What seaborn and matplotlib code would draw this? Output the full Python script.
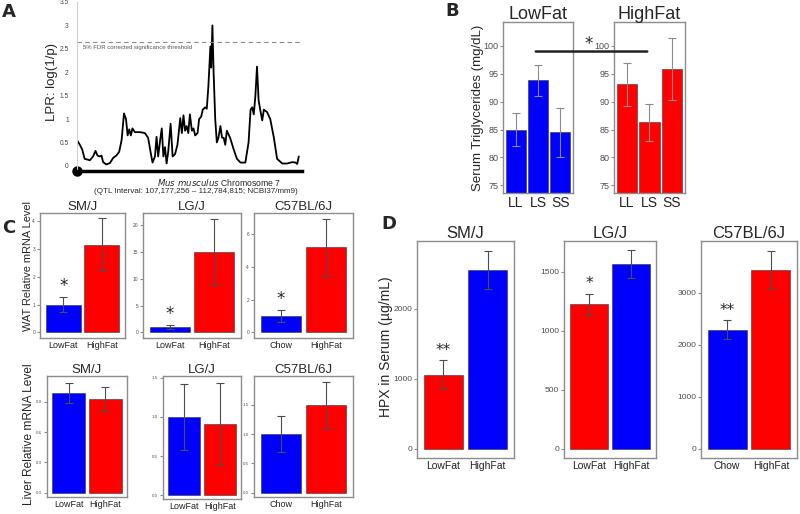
import matplotlib
matplotlib.use('Agg')
import matplotlib.pyplot as plt
from matplotlib.patches import ConnectionPatch
import seaborn as sns
import numpy as np
import pandas as pd

sns.set_style('white')
plt.rcParams['font.family'] = ['Liberation Sans', 'DejaVu Sans']

BLUE = '#0000ff'
RED = '#ff0000'
FRAME = '#8c8c8c'
ERR = '#4d4d4d'

# ---- panel A: LPR along chromosome 7 (Mb)
chr_pos = [107.18, 107.25, 107.31, 107.37, 107.50, 107.58, 107.64, 107.69, 107.75, 107.79,
           107.83, 107.91, 108.00, 108.08, 108.16, 108.23, 108.29, 108.35, 108.40, 108.44,
           108.48, 108.52, 108.56, 108.62, 108.75, 108.87, 108.95, 109.01, 109.06, 109.12,
           109.16, 109.20, 109.25, 109.29, 109.33, 109.37, 109.41, 109.45, 109.51, 109.56,
           109.62, 109.68, 109.75, 109.79, 109.83, 109.87, 109.91, 109.95, 109.99, 110.04,
           110.08, 110.12, 110.18, 110.22, 110.27, 110.31, 110.37, 110.41, 110.45, 110.50,
           110.52, 110.55, 110.58, 110.62, 110.66, 110.70, 110.75, 110.79, 110.83, 110.87,
           110.91, 110.99, 111.08, 111.16, 111.25, 111.37, 111.45, 111.50, 111.54, 111.58,
           111.62, 111.66, 111.70, 111.74, 111.79, 111.83, 111.91, 111.99, 112.08, 112.16,
           112.29, 112.41, 112.54, 112.62, 112.66, 112.70]
lpr = [0.55, 0.45, 0.35, 0.15, 0.12, 0.2, 0.32, 0.22, 0.2, 0.22,
       0.08, 0.03, 0.06, 0.17, 0.22, 0.3, 0.55, 1.12, 1.0, 0.65,
       0.78, 0.65, 0.8, 0.72, 0.72, 0.7, 0.6, 0.3, 0.07, 0.2,
       0.62, 0.2, 0.55, 0.8, 0.2, 0.4, 0.05, 0.3, 0.9, 0.2,
       0.25, 0.45, 1.02, 0.7, 1.08, 0.75, 0.85, 0.7, 1.1, 0.75,
       0.8, 0.65, 0.7, 1.0, 1.05, 1.2, 1.25, 1.22, 1.7, 2.55,
       2.1, 3.0, 2.0, 1.0, 0.5, 0.6, 0.85, 0.6, 0.6, 0.45,
       0.75, 0.6, 0.35, 0.15, 0.07, 0.07, 0.5, 1.2, 1.25, 1.1,
       1.5, 2.12, 1.4, 1.2, 0.97, 1.2, 1.15, 1.0, 0.6, 0.15,
       0.05, 0.05, 0.08, 0.07, 0.04, 0.2]
fdr_threshold = 2.65

# ---- panel B: serum triglycerides
tg_genotypes = ['LL', 'LS', 'SS']
tg_lowfat = [85.0, 93.8, 84.5]
tg_lowfat_se = [2.9, 2.75, 4.45]
tg_highfat = [93.1, 86.3, 95.8]
tg_highfat_se = [3.8, 3.3, 5.55]

# ---- panel C / D
strains = ['SM/J', 'LG/J', 'C57BL/6J']
diets = [['LowFat', 'HighFat'], ['LowFat', 'HighFat'], ['Chow', 'HighFat']]
wat_mean = [[1.0, 3.15], [1.0, 15.05], [1.0, 5.2]]
wat_se = [[0.27, 0.94], [0.3, 6.2], [0.35, 1.75]]
wat_sig = ['*', '*', '*']
liver_mean = [[0.99, 0.93], [1.0, 0.915], [1.0, 1.49]]
liver_se = [[0.098, 0.12], [0.42, 0.525], [0.30, 0.39]]
hpx_mean = [[1055, 2553], [1222, 1565], [2288, 3442]]
hpx_se = [[208, 270], [92, 115], [186, 365]]
hpx_sig = ['**', '*', '**']
hpx_colors = [[RED, BLUE], [RED, BLUE], [BLUE, RED]]

W, H = 800, 514
fig = plt.figure(figsize=(8, 5.14), dpi=100)


def box(l, t, r, b):
    return [l / W, 1 - b / H, (r - l) / W, (b - t) / H]


def bar_panel(ax, cats, means, ses, colors, ylim, yticks, ticklab, ytsize, xtsize,
              title=None, tsize=10, ecol=ERR, sig=None, sig_size=12, sig_off=0.05):
    df = pd.DataFrame({'cat': cats, 'val': means})
    sns.barplot(data=df, x='cat', y='val', hue='cat', palette=dict(zip(cats, colors)),
                width=0.9, saturation=1, errorbar=None, legend=False, ax=ax,
                edgecolor='#333333', linewidth=0.4)
    ax.errorbar(np.arange(len(cats)), means, yerr=ses, fmt='none', ecolor=ecol,
                elinewidth=0.8, capsize=3, capthick=0.8)
    n = len(cats)
    ax.set_xlim(-0.58 if n == 3 else -0.6, n - 1 + (0.58 if n == 3 else 0.6))
    ax.set_ylim(*ylim)
    ax.set_yticks(yticks)
    ax.set_yticklabels(ticklab)
    ax.set_xlabel('')
    ax.set_ylabel('')
    ax.tick_params(axis='y', labelsize=ytsize, labelcolor='#4d4d4d', length=2,
                   color=FRAME, left=True, pad=1.5)
    ax.tick_params(axis='x', labelsize=xtsize, labelcolor='#222222', length=0, pad=2)
    for s in ax.spines.values():
        s.set_color(FRAME)
        s.set_linewidth(1.0)
    if title:
        ax.set_title(title, fontsize=tsize, pad=2)
    if sig:
        top = means[0] + ses[0] + sig_off * (ylim[1] - ylim[0])
        ax.text(0, top, sig, ha='center', va='center', fontsize=sig_size,
                fontfamily='DejaVu Sans')


# ---------------- A
axA = fig.add_axes(box(77, 2, 302, 171))
sns.lineplot(x=chr_pos, y=lpr, color='black', linewidth=1.3, ax=axA)
axA.set_xlim(107.18, 112.78)
axA.set_ylim(-0.11, 3.5)
axA.axhline(fdr_threshold, ls=(0, (4, 3)), color='#8a8a8a', lw=0.8)
axA.text(107.33, 2.52, '5% FDR corrected significance threshold', fontsize=4.3,
         color='#555555', va='center')
axA.set_yticks(np.arange(0, 3.51, 0.5))
axA.set_yticklabels(['0', '0.5', '1', '1.5', '2', '2.5', '3', '3.5'])
axA.tick_params(axis='y', labelsize=4.8, labelcolor='#444444', length=0, pad=6)
axA.set_xticks([])
axA.set_xlabel('')
axA.set_ylabel('')
for s in ['top', 'right']:
    axA.spines[s].set_visible(False)
axA.spines['left'].set_color('#d0d0d0')
axA.spines['left'].set_linewidth(0.8)
axA.spines['bottom'].set_color('black')
axA.spines['bottom'].set_linewidth(2.5)
axA.plot([107.18], [-0.11], 'o', color='black', ms=6.5, clip_on=False)
fig.text(52 / W, 1 - 82 / H, 'LPR: log(1/p)', rotation=90, fontsize=9.5,
         ha='center', va='center')
fig.text(219 / W, 1 - 182 / H, r'$\it{Mus\ musculus}$ Chromosome 7',
         ha='center', va='center', fontsize=6.2)
fig.text(196 / W, 1 - 191.5 / H,
         '(QTL Interval: 107,177,256 \u2013 112,784,815; NCBI37/mm9)',
         ha='center', va='center', fontsize=5.8)

# ---------------- B
tg_ticks = [75, 80, 85, 90, 95, 100]
axB1 = fig.add_axes(box(503, 22, 573, 193))
bar_panel(axB1, tg_genotypes, tg_lowfat, tg_lowfat_se, [BLUE] * 3, (73.6, 104.3),
          tg_ticks, [str(t) for t in tg_ticks], 6.5, 10, 'LowFat', 13, ecol='#8a8a8a')
axB2 = fig.add_axes(box(614, 22, 685, 193))
bar_panel(axB2, tg_genotypes, tg_highfat, tg_highfat_se, [RED] * 3, (73.6, 104.3),
          tg_ticks, [str(t) for t in tg_ticks], 6.5, 10, 'HighFat', 13, ecol='#8a8a8a')
con = ConnectionPatch(xyA=(0.9, 99.0), coordsA=axB1.transData,
                      xyB=(0.9, 99.0), coordsB=axB2.transData,
                      color='#222222', linewidth=1.8)
fig.add_artist(con)
fig.text(589 / W, 1 - 44 / H, '*', fontsize=12, ha='center', va='center',
         fontfamily='DejaVu Sans')
fig.text(478 / W, 1 - 108 / H, 'Serum Triglycerides (mg/dL)', rotation=90,
         fontsize=9.5, ha='center', va='center')

# ---------------- C top (WAT)
c_top_boxes = [(40, 213, 125, 338), (143, 213, 241, 338), (254, 213, 353, 338)]
wat_ylims = [(-0.2, 4.28), (-1.06, 22.3), (-0.35, 7.3)]
wat_ticks = [[0, 1, 2, 3, 4], [0, 5, 10, 15, 20], [0, 2, 4, 6]]
for i in range(3):
    ax = fig.add_axes(box(*c_top_boxes[i]))
    bar_panel(ax, diets[i], wat_mean[i], wat_se[i], [BLUE, RED], wat_ylims[i],
              wat_ticks[i], [str(t) for t in wat_ticks[i]], 3.5, 6.5, strains[i], 9.5,
              sig=wat_sig[i], sig_size=12, sig_off=0.09)
fig.text(28 / W, 1 - 266 / H, 'WAT Relative mRNA Level', rotation=90,
         fontsize=7.9, ha='center', va='center')

# ---------------- C bottom (liver)
c_bot_boxes = [(47, 376, 127, 497), (163, 376, 241, 499), (254, 376, 353, 497)]
liver_ylims = [(-0.043, 1.157), (-0.05, 1.525), (-0.074, 1.99)]
liver_ticks = [[0.0, 0.3, 0.6, 0.9], [0.0, 0.5, 1.0, 1.5], [0.0, 0.5, 1.0, 1.5]]
for i in range(3):
    ax = fig.add_axes(box(*c_bot_boxes[i]))
    bar_panel(ax, diets[i], liver_mean[i], liver_se[i], [BLUE, RED], liver_ylims[i],
              liver_ticks[i], ['%.1f' % t for t in liver_ticks[i]], 3.2, 6.5,
              strains[i], 9.5)
fig.text(29 / W, 1 - 434 / H, 'Liver Relative mRNA Level', rotation=90,
         fontsize=8.6, ha='center', va='center')

# ---------------- D (HPX)
d_boxes = [(417, 241, 514, 458), (564, 241, 656, 458), (701, 241, 797, 458)]
hpx_ylims = [(-134, 2968), (-79, 1760), (-180, 3990)]
hpx_ticks = [[0, 1000, 2000], [0, 500, 1000, 1500], [0, 1000, 2000, 3000]]
for i in range(3):
    ax = fig.add_axes(box(*d_boxes[i]))
    bar_panel(ax, diets[i], hpx_mean[i], hpx_se[i], hpx_colors[i], hpx_ylims[i],
              hpx_ticks[i], [str(t) for t in hpx_ticks[i]], 6, 7.5, strains[i], 12,
              sig=hpx_sig[i], sig_size=11, sig_off=0.045)
fig.text(386 / W, 1 - 347 / H, 'HPX in Serum (\u00b5g/mL)', rotation=90,
         fontsize=10, ha='center', va='center')

# panel letters
for lab, (x, y) in {'A': (9, 12), 'B': (452, 11), 'C': (9, 228), 'D': (389, 224)}.items():
    fig.text(x / W, 1 - y / H, lab, fontsize=13, fontweight='bold', ha='center',
             va='center', fontfamily='DejaVu Sans')

fig.savefig('out.png', dpi=100)
